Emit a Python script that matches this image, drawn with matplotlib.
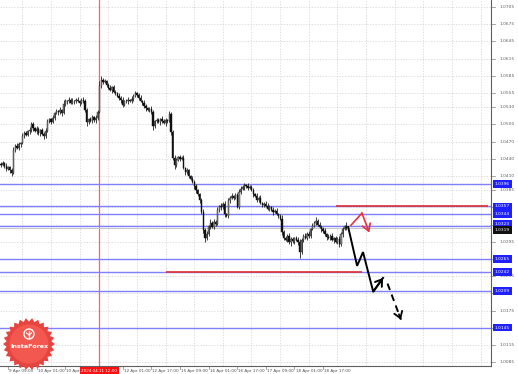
import numpy as np
import matplotlib
matplotlib.use("Agg")
import matplotlib.pyplot as plt
from matplotlib.patches import Polygon, Circle

# ---------------- data ----------------
first_open = 1.0431
closes = [
    1.0429, 1.0432, 1.0427, 1.0423, 1.0425, 1.0420, 1.0416, 1.0455, 1.0462, 1.0459,
    1.0466, 1.0468, 1.0480, 1.0485, 1.0482, 1.0488, 1.0490, 1.0501, 1.0494, 1.0488,
    1.0492, 1.0485, 1.0490, 1.0483, 1.0480, 1.0488, 1.0506, 1.0509, 1.0504, 1.0511,
    1.0520, 1.0523, 1.0521, 1.0525, 1.0520, 1.0536, 1.0541, 1.0540, 1.0543, 1.0538,
    1.0541, 1.0540, 1.0543, 1.0541, 1.0538, 1.0543, 1.0540, 1.0525, 1.0504, 1.0509,
    1.0506, 1.0513, 1.0508, 1.0511, 1.0522, 1.0567, 1.0578, 1.0574, 1.0576, 1.0569,
    1.0564, 1.0560, 1.0565, 1.0557, 1.0555, 1.0550, 1.0546, 1.0543, 1.0534, 1.0541,
    1.0540, 1.0543, 1.0541, 1.0545, 1.0550, 1.0555, 1.0552, 1.0546, 1.0541, 1.0538,
    1.0532, 1.0529, 1.0525, 1.0527, 1.0522, 1.0497, 1.0506, 1.0508, 1.0504, 1.0509,
    1.0506, 1.0502, 1.0508, 1.0506, 1.0518, 1.0487, 1.0441, 1.0429, 1.0438, 1.0443,
    1.0440, 1.0441, 1.0424, 1.0417, 1.0420, 1.0410, 1.0405, 1.0400, 1.0392, 1.0385,
    1.0378, 1.0368, 1.0347, 1.0316, 1.0302, 1.0309, 1.0323, 1.0328, 1.0321, 1.0330,
    1.0326, 1.0351, 1.0358, 1.0355, 1.0361, 1.0343, 1.0340, 1.0368, 1.0372, 1.0375,
    1.0372, 1.0377, 1.0356, 1.0382, 1.0387, 1.0391, 1.0394, 1.0392, 1.0389, 1.0391,
    1.0386, 1.0379, 1.0375, 1.0368, 1.0372, 1.0363, 1.0360, 1.0361, 1.0358, 1.0353,
    1.0356, 1.0351, 1.0347, 1.0349, 1.0344, 1.0340, 1.0335, 1.0312, 1.0302, 1.0299,
    1.0306, 1.0294, 1.0300, 1.0296, 1.0302, 1.0299, 1.0295, 1.0277, 1.0299, 1.0306,
    1.0302, 1.0309, 1.0306, 1.0317, 1.0323, 1.0328, 1.0332, 1.0325, 1.0321, 1.0317,
    1.0314, 1.0309, 1.0304, 1.0302, 1.0306, 1.0299, 1.0302, 1.0295, 1.0300, 1.0291,
    1.0308, 1.0317, 1.0323, 1.0319,
]
wick_up_pips = [
    3, 4, 2, 5, 3, 2, 4, 6, 3, 5,  4, 2, 5, 3, 4, 2, 6, 3, 4, 2,
    5, 3, 2, 4, 3, 5, 4, 2, 3, 5,  2, 4, 3, 5, 2, 6, 3, 2, 4, 3,
    5, 2, 3, 4, 2, 3, 4, 5, 3, 2,  4, 3, 2, 5, 4, 8, 6, 3, 4, 2,
    3, 5, 2, 4, 3, 2, 4, 3, 5, 2,  3, 4, 2, 5, 3, 4, 2, 3, 5, 2,
    4, 3, 2, 4, 5, 3, 2, 4, 3, 2,  5, 3, 4, 2, 6, 3, 4, 5, 3, 2,
    4, 3, 5, 2, 4, 3, 2, 5, 3, 4,  2, 3, 4, 5, 3, 4, 2, 6, 3, 4,
    3, 5, 2, 4, 3, 6, 2, 4, 3, 5,  2, 4, 3, 5, 6, 3, 4, 2, 5, 3,
    4, 3, 2, 5, 3, 4, 2, 3, 5, 4,  3, 2, 4, 3, 5, 2, 4, 6, 3, 4,
    2, 5, 3, 4, 2, 3, 4, 5, 3, 2,  4, 3, 5, 2, 4, 3, 6, 2, 4, 3,
    3, 5, 2, 4, 3, 5, 2, 4, 3, 5,  4, 3, 2, 6,
]
wick_dn_pips = [
    4, 2, 3, 5, 2, 4, 6, 3, 4, 2,  3, 5, 2, 4, 3, 2, 4, 3, 5, 2,
    4, 3, 5, 2, 6, 3, 2, 4, 3, 2,  3, 2, 4, 3, 5, 2, 3, 4, 2, 3,
    2, 4, 3, 2, 5, 3, 2, 4, 6, 3,  2, 4, 3, 5, 3, 2, 4, 3, 2, 4,
    3, 2, 5, 3, 4, 2, 3, 6, 4, 2,  3, 4, 2, 3, 5, 2, 4, 3, 2, 4,
    3, 5, 2, 4, 3, 6, 4, 3, 2, 5,  3, 2, 4, 3, 2, 5, 4, 6, 3, 2,
    4, 3, 2, 5, 3, 4, 2, 3, 5, 4,  3, 5, 4, 6, 8, 4, 3, 5, 2, 4,
    3, 2, 4, 5, 3, 4, 2, 3, 5, 2,  4, 3, 2, 4, 3, 2, 5, 3, 4, 2,
    3, 5, 2, 4, 3, 2, 4, 5, 3, 2,  4, 3, 5, 2, 3, 4, 2, 5, 4, 3,
    5, 2, 6, 3, 4, 2, 5, 10, 3, 4, 2, 3, 4, 5, 2, 3, 4, 3, 2, 5,
    4, 3, 5, 2, 4, 3, 6, 2, 4, 5,  3, 4, 2, 3,
]

price_ticks = [1.0705, 1.0675, 1.0645, 1.0615, 1.0585, 1.0555, 1.0530, 1.0500,
               1.0470, 1.0440, 1.0410, 1.0385, 1.0355, 1.0325, 1.0295, 1.0265,
               1.0235, 1.0205, 1.0175, 1.0145, 1.0115, 1.0085]
time_labels = ["9 Apr 09:00", "10 Apr 01:00", "10 Apr 17:00", "11 Apr 09:00",
               "12 Apr 01:00", "12 Apr 17:00", "15 Apr 09:00", "16 Apr 01:00",
               "16 Apr 17:00", "17 Apr 09:00", "18 Apr 01:00", "18 Apr 17:00"]
first_label_bar = 4
bars_per_label = 16
first_vgrid_bar = 12

blue_levels = [1.0396, 1.0357, 1.0344, 1.0323, 1.0265, 1.0242, 1.0209, 1.0145]
current_price = 1.0319
marker_bar = 55
marker_label = "2024.04.11 12:00"

red_seg_low = (92, 202, 1.0242)    # start bar, end bar, price
red_seg_high = (187, 272, 1.0357)

proj_solid_bars = [194, 199, 202.3, 208, 213.5]
proj_solid_prices = [1.0321, 1.0253, 1.0277, 1.0208, 1.0232]
proj_dash_bars = [216, 223.5]
proj_dash_prices = [1.0222, 1.0159]
red_proj_bars = [195.6, 201.7, 205.8]
red_proj_prices = [1.0324, 1.0345, 1.0311]

# ---------------- figure ----------------
W, H = 518, 374
fig = plt.figure(figsize=(W / 100, H / 100), dpi=100)
fig.patch.set_facecolor("white")
plot_right = 491
plot_bottom = 366
ax = fig.add_axes([0, (H - plot_bottom) / H, plot_right / W, plot_bottom / H])
ymax = 1.0705 + 7 / 5727
ymin = 1.0705 - (plot_bottom - 7) / 5727
ax.set_ylim(ymin, ymax)
ax.set_xlim(-0.5, 273.8)
ax.set_facecolor("white")
for s in ["top", "left"]:
    ax.spines[s].set_visible(False)
for s in ["right", "bottom"]:
    ax.spines[s].set_color("#606060")
    ax.spines[s].set_linewidth(0.8)
ax.set_xticks([])
ax.set_yticks([])

# grid
label_bars = [first_label_bar + bars_per_label * k for k in range(len(time_labels))]
grid_col = "#d2d2d2"
for p in price_ticks:
    ax.axhline(p, color=grid_col, lw=0.5, ls=(0, (2, 2)), zorder=0)
for b in range(first_vgrid_bar, 274, bars_per_label):
    ax.axvline(b, color=grid_col, lw=0.5, ls=(0, (2, 2)), zorder=0)

# marker vertical line
ax.axvline(marker_bar, color="#ff6060", lw=0.9, zorder=1)

# horizontal levels
for lv in blue_levels:
    ax.axhline(lv, color="#7f7fff", lw=1.0, zorder=2)
ax.axhline(current_price, color="#c8c8c8", lw=0.7, zorder=1)
ax.hlines(red_seg_low[2], red_seg_low[0], red_seg_low[1], color="#e03030", lw=1.2, zorder=3)
ax.hlines(red_seg_high[2], red_seg_high[0], red_seg_high[1], color="#e03030", lw=1.2, zorder=3)

# candles
closes_a = np.array(closes)
opens_a = np.concatenate([[first_open], closes_a[:-1]])
highs = np.maximum(opens_a, closes_a) + np.array(wick_up_pips) * 0.0001
lows = np.minimum(opens_a, closes_a) - np.array(wick_dn_pips) * 0.0001
idx = np.arange(len(closes_a))
ax.vlines(idx, lows, highs, color="#202020", lw=0.6, zorder=4)
bull = closes_a >= opens_a
ax.bar(idx[bull], (closes_a - opens_a)[bull], bottom=opens_a[bull], width=0.7,
       color="#909090", edgecolor="#202020", lw=0.3, zorder=5)
ax.bar(idx[~bull], (opens_a - closes_a)[~bull], bottom=closes_a[~bull], width=0.7,
       color="#101010", edgecolor="#101010", lw=0.3, zorder=5)

# projections
ax.plot(proj_solid_bars, proj_solid_prices, color="black", lw=1.4, zorder=6,
        solid_joinstyle="miter")
ax.annotate("", xy=(proj_solid_bars[-1], proj_solid_prices[-1]),
            xytext=(proj_solid_bars[-2], proj_solid_prices[-2]),
            arrowprops=dict(arrowstyle="->,head_length=0.45,head_width=0.3",
                            color="black", lw=1.4, shrinkA=0, shrinkB=0), zorder=6)
ax.plot(proj_dash_bars, proj_dash_prices, color="black", lw=1.4, ls=(0, (3.5, 2.5)),
        zorder=6)
tip_from = (proj_dash_bars[0] + 0.85 * (proj_dash_bars[1] - proj_dash_bars[0]),
            proj_dash_prices[0] + 0.85 * (proj_dash_prices[1] - proj_dash_prices[0]))
ax.annotate("", xy=(proj_dash_bars[-1], proj_dash_prices[-1]), xytext=tip_from,
            arrowprops=dict(arrowstyle="->,head_length=0.45,head_width=0.3",
                            color="black", lw=1.3, shrinkA=0, shrinkB=0), zorder=6)
ax.plot(red_proj_bars[:2], red_proj_prices[:2], color="#e83040", lw=1.2, zorder=6)
ax.annotate("", xy=(red_proj_bars[2], red_proj_prices[2]),
            xytext=(red_proj_bars[1], red_proj_prices[1]),
            arrowprops=dict(arrowstyle="->,head_length=0.5,head_width=0.3",
                            color="#e83040", lw=1.2, shrinkA=0, shrinkB=0), zorder=6)

# price labels
font = "DejaVu Sans"
px_per_price = 5727
yt = ax.get_yaxis_transform()
box_levels = blue_levels + [current_price]
for p in price_ticks:
    ax.plot([1, 1 + 4 / plot_right], [p, p], transform=yt,
            color="#808080", lw=0.5, clip_on=False)
    if min(abs(p - b) for b in box_levels) * px_per_price < 4:
        continue  # covered by a level box
    ax.text(1 + 9 / plot_right, p, f"{p:.4f}", transform=yt,
            fontsize=3.2, color="#606060", va="center", ha="left", family=font,
            clip_on=False, zorder=7)
for lv in blue_levels:
    nudge = 0.0
    if abs(lv - current_price) * px_per_price < 6:
        nudge = 2.2 / px_per_price  # keep both boxes readable
    ax.text(1 + 4 / plot_right, lv + nudge, f"{lv:.4f}", transform=yt,
            fontsize=3.2, color="white", va="center", ha="left", family=font,
            clip_on=False, zorder=9,
            bbox=dict(boxstyle="square,pad=0.4", fc="#2020ff", ec="none"))
ax.text(1 + 4 / plot_right, current_price - 2.2 / px_per_price, f"{current_price:.4f}",
        transform=yt, fontsize=3.2, color="white",
        va="center", ha="left", family=font, clip_on=False, zorder=10,
        bbox=dict(boxstyle="square,pad=0.4", fc="#101010", ec="none"))

# time labels
xt = ax.get_xaxis_transform()
for b, t in zip(label_bars, time_labels):
    ax.plot([b, b], [0, -3 / plot_bottom], transform=xt,
            color="#808080", lw=0.5, clip_on=False)
    if abs(b - marker_bar) < 10:
        continue  # hidden under the marker's date box
    ax.text(b + 0.6, -3 / plot_bottom, t, transform=xt,
            fontsize=3.0, color="#505050", va="top", ha="left", family=font,
            clip_on=False)
ax.text(marker_bar, -2.5 / plot_bottom, marker_label, transform=xt,
        fontsize=3.0, color="white", va="top", ha="center", family=font,
        clip_on=False, zorder=10,
        bbox=dict(boxstyle="square,pad=0.3", fc="#ff1010", ec="none"))

# logo (decoration, pixel coordinates)
ov = fig.add_axes([0, 0, 1, 1], zorder=20)
ov.set_xlim(0, W)
ov.set_ylim(H, 0)
ov.axis("off")
ov.patch.set_alpha(0)
cx, cy = 29, 344
n = 26
ang = np.linspace(0, 2 * np.pi, 2 * n, endpoint=False)
rad = np.where(np.arange(2 * n) % 2 == 0, 26, 22.5)
star = np.column_stack([cx + rad * np.cos(ang), cy + rad * np.sin(ang)])
ov.add_patch(Polygon(star, closed=True, fc="#e8443f", ec="none"))
ov.add_patch(Circle((cx, cy), 19.5, fc="#f25850", ec="none"))
ov.add_patch(Circle((cx, cy - 10), 5, fc="none", ec="white", lw=1.0))
ov.plot([cx, cx], [cy - 13, cy - 6], color="white", lw=1.0)
ov.plot([cx - 2.5, cx, cx + 2.5], [cy - 11, cy - 9, cy - 11], color="white", lw=0.8)
ov.text(cx, cy + 3, "InstaForex", color="white", fontsize=4.6, ha="center",
        va="center", family=font, fontweight="bold")

fig.savefig("out.png", dpi=100, facecolor="white")
